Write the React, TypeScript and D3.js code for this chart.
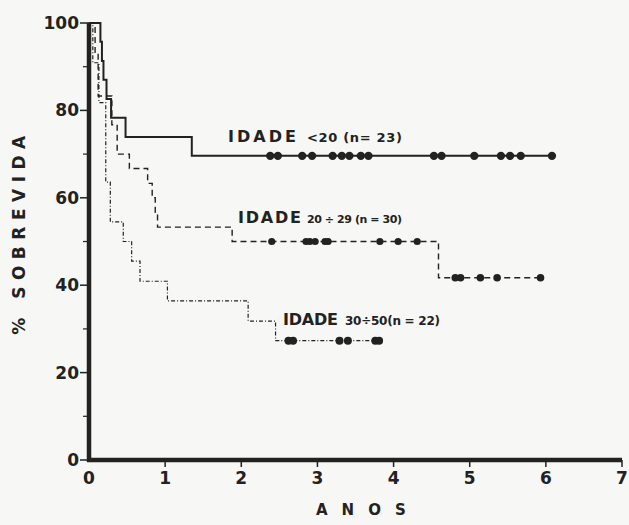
import React, { useEffect, useRef } from 'react';
import * as d3 from 'd3';

// survival steps [anos, % sobrevida]
const stepsUnder20: [number, number][] = [
  [0, 100], [0.15, 95.7], [0.17, 91.3], [0.19, 87], [0.23, 82.6],
  [0.29, 78.3], [0.48, 73.9], [1.35, 69.6], [6.08, 69.6],
];
const steps20to29: [number, number][] = [
  [0, 100], [0.08, 93.3], [0.12, 83.3], [0.3, 76.7], [0.37, 70],
  [0.53, 66.7], [0.77, 63.3], [0.83, 60], [0.87, 56.7], [0.9, 53.3],
  [1.88, 50], [4.59, 41.7], [5.93, 41.7],
];
const steps30to50: [number, number][] = [
  [0, 100], [0.05, 90.9], [0.13, 81.8], [0.22, 63.6], [0.28, 54.5],
  [0.45, 50], [0.56, 45.5], [0.67, 40.9], [1.03, 36.4], [2.09, 31.8],
  [2.45, 27.3], [3.81, 27.3],
];

// censored observations (anos)
const censUnder20 = [2.38, 2.48, 2.8, 2.93, 3.2, 3.32, 3.42, 3.57, 3.67, 4.53, 4.63, 5.06, 5.41, 5.53, 5.67, 6.08];
const cens20to29a = [2.4, 2.85, 2.9, 2.97, 3.1, 3.14, 3.82, 4.06, 4.31];
const cens20to29b = [4.81, 4.88, 5.14, 5.36, 5.93];
const cens30to50 = [2.62, 2.68, 3.29, 3.4, 3.76, 3.81];

const yMajor = [0, 20, 40, 60, 80, 100];
const yMinor = [10, 30, 50, 70, 90];
const xTicks = [0, 1, 2, 3, 4, 5, 6, 7];

const App = () => {
  const ref = useRef<SVGSVGElement>(null);

  useEffect(() => {
    const svg = d3.select(ref.current);
    svg.selectAll('*').remove();
    const ink = '#222';
    const font = 'DejaVu Sans, sans-serif';

    svg.append('rect').attr('width', 629).attr('height', 525).attr('fill', '#f7f7f5');

    const x = d3.scaleLinear().domain([0, 7]).range([89, 622]);
    const y = d3.scaleLinear().domain([0, 100]).range([460, 23]);

    const line = d3.line<[number, number]>()
      .x(d => x(d[0]))
      .y(d => y(d[1]))
      .curve(d3.curveStepAfter);

    // axes
    svg.append('line').attr('x1', x(0)).attr('x2', x(0)).attr('y1', y(100)).attr('y2', y(0) + 2)
      .attr('stroke', ink).attr('stroke-width', 4.5);
    svg.append('line').attr('x1', x(0) - 2).attr('x2', x(7)).attr('y1', y(0)).attr('y2', y(0))
      .attr('stroke', ink).attr('stroke-width', 4.5);

    svg.selectAll('.ymaj').data(yMajor).enter().append('line')
      .attr('x1', x(0) - 9).attr('x2', x(0)).attr('y1', d => y(d)).attr('y2', d => y(d))
      .attr('stroke', ink).attr('stroke-width', 1.5);
    svg.selectAll('.ymin').data(yMinor).enter().append('line')
      .attr('x1', x(0) - 6).attr('x2', x(0)).attr('y1', d => y(d)).attr('y2', d => y(d))
      .attr('stroke', ink).attr('stroke-width', 1.2);
    svg.selectAll('.ylab').data(yMajor).enter().append('text')
      .attr('x', x(0) - 10).attr('y', d => y(d) + 6)
      .attr('text-anchor', 'end').attr('font-family', font).attr('font-weight', 'bold')
      .attr('font-size', 17).attr('fill', ink).text(d => d);

    svg.selectAll('.xt').data(xTicks.slice(1)).enter().append('line')
      .attr('x1', d => x(d)).attr('x2', d => x(d)).attr('y1', y(0)).attr('y2', y(0) + 7)
      .attr('stroke', ink).attr('stroke-width', 1.5);
    svg.selectAll('.xlab').data(xTicks).enter().append('text')
      .attr('x', d => x(d)).attr('y', y(0) + 24)
      .attr('text-anchor', 'middle').attr('font-family', font).attr('font-weight', 'bold')
      .attr('font-size', 17).attr('fill', ink).text(d => d);

    svg.append('text').attr('x', 316).attr('y', 515)
      .attr('font-family', font).attr('font-weight', 'bold').attr('font-size', 15)
      .attr('letter-spacing', 14).attr('fill', ink).text('ANOS');
    svg.append('text').attr('transform', 'translate(25,232) rotate(-90)').attr('text-anchor', 'middle')
      .attr('font-family', font).attr('font-weight', 'bold').attr('font-size', 17)
      .attr('letter-spacing', 6.5).attr('fill', ink).text('% SOBREVIDA');

    // curves
    svg.append('path').attr('d', line(steps30to50)).attr('fill', 'none')
      .attr('stroke', ink).attr('stroke-width', 1.2).attr('stroke-dasharray', '4,2,1,2');
    svg.append('path').attr('d', line(steps20to29)).attr('fill', 'none')
      .attr('stroke', ink).attr('stroke-width', 1.4).attr('stroke-dasharray', '6,4');
    svg.append('path').attr('d', line(stepsUnder20)).attr('fill', 'none')
      .attr('stroke', ink).attr('stroke-width', 2);

    const dots = (vals: number[], level: number, r: number) => {
      svg.append('g').selectAll('circle').data(vals).enter().append('circle')
        .attr('cx', d => x(d)).attr('cy', y(level)).attr('r', r).attr('fill', ink);
    };
    dots(censUnder20, 69.6, 4.2);
    dots(cens20to29a, 50, 3.6);
    dots(cens20to29b, 41.7, 3.8);
    dots(cens30to50, 27.3, 4);

    // group labels
    const label = (px: number, py: number, w: number, small: string, sx: number, fs: number) => {
      svg.append('text').attr('x', px).attr('y', py).attr('fill', ink).attr('font-family', font)
        .attr('font-size', 16).attr('font-weight', 'bold')
        .attr('textLength', w).attr('lengthAdjust', 'spacing').text('IDADE');
      svg.append('text').attr('x', sx).attr('y', py).attr('fill', ink).attr('font-family', font)
        .attr('font-size', fs).attr('font-weight', 'bold')
        .attr('textLength', 95).attr('lengthAdjust', 'spacing').text(small);
    };
    label(228, 142, 68, '<20 (n= 23)', 307, 13);
    label(238, 223, 63, '20 ÷ 29 (n = 30)', 307, 11);
    label(283, 325, 55, '30÷50(n = 22)', 345, 12);
  }, []);

  return (
    <svg ref={ref} width={629} height={525}
      style={{ position: 'absolute', left: 0, top: 0 }} />
  );
};

export default App;
